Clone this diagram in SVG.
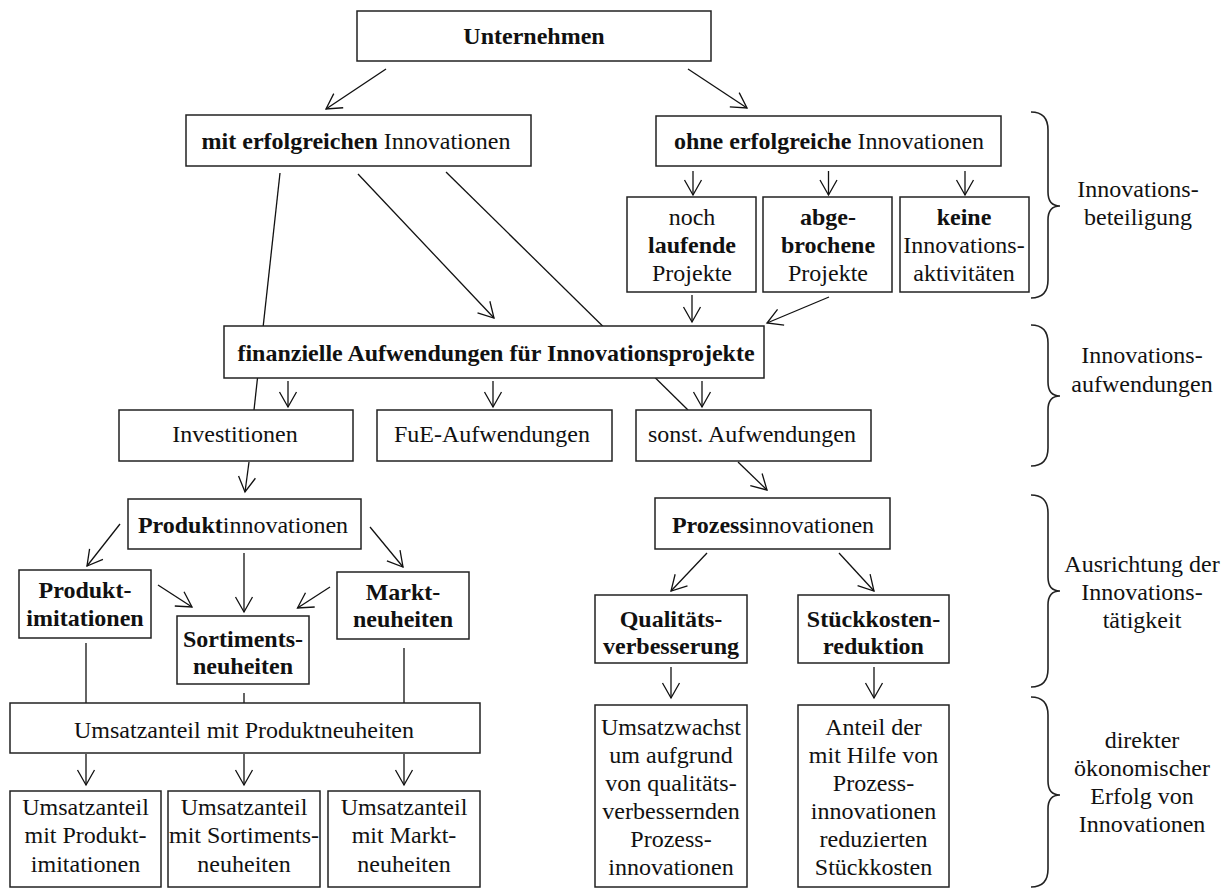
<svg xmlns="http://www.w3.org/2000/svg" width="1232" height="888" viewBox="0 0 1232 888">
<defs>
<marker id="arr" markerUnits="userSpaceOnUse" viewBox="-17 -10 18 20" markerWidth="18" markerHeight="20" refX="0" refY="0" orient="auto" overflow="visible">
<path d="M-15,-8.5 L0,0 L-15,8.5" fill="none" stroke="#111" stroke-width="1.3"/>
</marker>
</defs>
<style>
text{font-family:"Liberation Serif","Times New Roman",serif;font-size:24px;fill:#111;text-anchor:middle}
.b{font-weight:bold}
rect{fill:#fff;stroke:#222;stroke-width:1.5}
.c line{stroke:#111;stroke-width:1.3}
.c line.a{marker-end:url(#arr)}
.br{fill:none;stroke:#222;stroke-width:1.6}
</style>
<rect x="0" y="0" width="1232" height="888" style="fill:#fff;stroke:none"/>
<g id="connectors" class="c">
<line class="a" x1="386" y1="69" x2="326" y2="109"/>
<line class="a" x1="688" y1="69" x2="747" y2="108"/>
<line class="a" x1="693" y1="171" x2="693" y2="195"/>
<line class="a" x1="828.5" y1="171" x2="828.5" y2="195"/>
<line class="a" x1="965" y1="171" x2="965" y2="195"/>
<line x1="280" y1="173" x2="254" y2="410"/>
<line class="a" x1="358" y1="174" x2="494" y2="318"/>
<line x1="446" y1="172" x2="688" y2="410"/>
<line class="a" x1="692" y1="295" x2="692" y2="322"/>
<line class="a" x1="829" y1="297" x2="767" y2="323"/>
<line class="a" x1="288" y1="381" x2="288" y2="407"/>
<line class="a" x1="493" y1="381" x2="493" y2="407"/>
<line class="a" x1="702" y1="381" x2="702" y2="407"/>
<line class="a" x1="249" y1="462" x2="245" y2="492"/>
<line class="a" x1="738" y1="462" x2="767" y2="490"/>
<line class="a" x1="120" y1="524" x2="87" y2="566"/>
<line class="a" x1="244" y1="553" x2="244" y2="612"/>
<line class="a" x1="370" y1="527" x2="403" y2="567"/>
<line class="a" x1="158" y1="585" x2="192" y2="607"/>
<line class="a" x1="330" y1="587" x2="297.5" y2="608"/>
<line x1="86" y1="643" x2="86" y2="703"/>
<line x1="244" y1="693" x2="244" y2="703"/>
<line x1="404" y1="648" x2="404" y2="703"/>
<line class="a" x1="86" y1="754" x2="86" y2="785"/>
<line class="a" x1="244" y1="754" x2="244" y2="785"/>
<line class="a" x1="404" y1="754" x2="404" y2="785"/>
<line class="a" x1="707" y1="553" x2="671" y2="591"/>
<line class="a" x1="839" y1="553" x2="874" y2="591"/>
<line class="a" x1="671" y1="667" x2="671" y2="698"/>
<line class="a" x1="874" y1="667" x2="874" y2="698"/>
</g>
<g id="unternehmen"><rect x="357" y="11" width="354" height="50"/><text class="b" x="534" y="44">Unternehmen</text></g>
<g id="mit"><rect x="186" y="115" width="345" height="51"/><text x="356" y="149"><tspan class="b">mit erfolgreichen</tspan> Innovationen</text></g>
<g id="ohne"><rect x="656" y="116" width="345" height="50"/><text x="829" y="149"><tspan class="b">ohne erfolgreiche</tspan> Innovationen</text></g>
<g id="noch"><rect x="627" y="197" width="129" height="95"/><text x="692" y="225">noch</text><text class="b" x="692" y="253">laufende</text><text x="692" y="281">Projekte</text></g>
<g id="abge"><rect x="763" y="197" width="129" height="95"/><text class="b" x="828" y="225">abge-</text><text class="b" x="828" y="253">brochene</text><text x="828" y="281">Projekte</text></g>
<g id="keine"><rect x="900" y="197" width="129" height="95"/><text class="b" x="964" y="225">keine</text><text x="964" y="253">Innovations-</text><text x="964" y="281">aktivitäten</text></g>
<g id="finanzielle"><rect x="224" y="326" width="540" height="52"/><text class="b" x="496" y="361">finanzielle Aufwendungen für Innovationsprojekte</text></g>
<g id="investitionen"><rect x="119" y="410" width="234" height="51"/><text x="235" y="442">Investitionen</text></g>
<g id="fue"><rect x="377" y="410" width="235" height="51"/><text x="492" y="442">FuE-Aufwendungen</text></g>
<g id="sonst"><rect x="636" y="410" width="235" height="51"/><text x="752" y="442">sonst. Aufwendungen</text></g>
<g id="produktinnovationen"><rect x="128" y="499" width="233" height="50"/><text x="243" y="533"><tspan class="b">Produkt</tspan>innovationen</text></g>
<g id="produktimitationen"><rect x="19" y="570" width="132" height="68"/><text class="b" x="85" y="598">Produkt-</text><text class="b" x="85" y="626">imitationen</text></g>
<g id="sortimentsneuheiten"><rect x="177" y="616" width="132" height="68"/><text class="b" x="243" y="647">Sortiments-</text><text class="b" x="243" y="674">neuheiten</text></g>
<g id="marktneuheiten"><rect x="337" y="572" width="132" height="67"/><text class="b" x="403" y="600">Markt-</text><text class="b" x="403" y="627">neuheiten</text></g>
<g id="umsatzanteil"><rect x="10" y="703" width="470" height="50"/><text x="244" y="738">Umsatzanteil mit Produktneuheiten</text></g>
<g id="ua-imitationen"><rect x="10" y="791" width="151" height="96"/><text x="85.5" y="815">Umsatzanteil</text><text x="85.5" y="843">mit Produkt-</text><text x="85.5" y="872">imitationen</text></g>
<g id="ua-sortiment"><rect x="168" y="791" width="152" height="96"/><text x="244" y="815">Umsatzanteil</text><text x="244" y="843">mit Sortiments-</text><text x="244" y="872">neuheiten</text></g>
<g id="ua-markt"><rect x="328" y="791" width="152" height="96"/><text x="404" y="815">Umsatzanteil</text><text x="404" y="843">mit Markt-</text><text x="404" y="872">neuheiten</text></g>
<g id="prozessinnovationen"><rect x="655" y="498" width="235" height="51"/><text x="773" y="533"><tspan class="b">Prozess</tspan>innovationen</text></g>
<g id="qualitaet"><rect x="595" y="595" width="152" height="68"/><text class="b" x="671" y="627">Qualitäts-</text><text class="b" x="671" y="654">verbesserung</text></g>
<g id="stueckkosten"><rect x="798" y="595" width="151" height="68"/><text class="b" x="873.5" y="627">Stückkosten-</text><text class="b" x="873.5" y="654">reduktion</text></g>
<g id="umsatzwachst"><rect x="595" y="705" width="152" height="182"/><text x="671" y="735">Umsatzwachst</text><text x="671" y="763">um aufgrund</text><text x="671" y="791">von qualitäts-</text><text x="671" y="819">verbessernden</text><text x="671" y="847">Prozess-</text><text x="671" y="875">innovationen</text></g>
<g id="anteil"><rect x="798" y="705" width="151" height="182"/><text x="873.5" y="735">Anteil der</text><text x="873.5" y="763">mit Hilfe von</text><text x="873.5" y="791">Prozess-</text><text x="873.5" y="819">innovationen</text><text x="873.5" y="847">reduzierten</text><text x="873.5" y="875">Stückkosten</text></g>
<g id="brace-beteiligung"><path class="br" d="M1031,112 Q1048,112 1048,130 L1048,192 Q1048,206 1060,206 Q1048,206 1048,220 L1048,280 Q1048,298 1031,298"/><text x="1138" y="197">Innovations-</text><text x="1138" y="225">beteiligung</text></g>
<g id="brace-aufwendungen"><path class="br" d="M1031,325 Q1048,325 1048,343 L1048,382 Q1048,396 1060,396 Q1048,396 1048,410 L1048,448 Q1048,466 1031,466"/><text x="1142" y="363">Innovations-</text><text x="1142" y="392">aufwendungen</text></g>
<g id="brace-ausrichtung"><path class="br" d="M1031,495 Q1048,495 1048,513 L1048,577 Q1048,591 1060,591 Q1048,591 1048,605 L1048,669 Q1048,687 1031,687"/><text x="1142" y="572">Ausrichtung der</text><text x="1142" y="600">Innovations-</text><text x="1142" y="628">tätigkeit</text></g>
<g id="brace-erfolg"><path class="br" d="M1031,697 Q1048,697 1048,715 L1048,781 Q1048,795 1060,795 Q1048,795 1048,809 L1048,869 Q1048,887 1031,887"/><text x="1142" y="748">direkter</text><text x="1142" y="776">ökonomischer</text><text x="1142" y="804">Erfolg von</text><text x="1142" y="832">Innovationen</text></g>
</svg>
